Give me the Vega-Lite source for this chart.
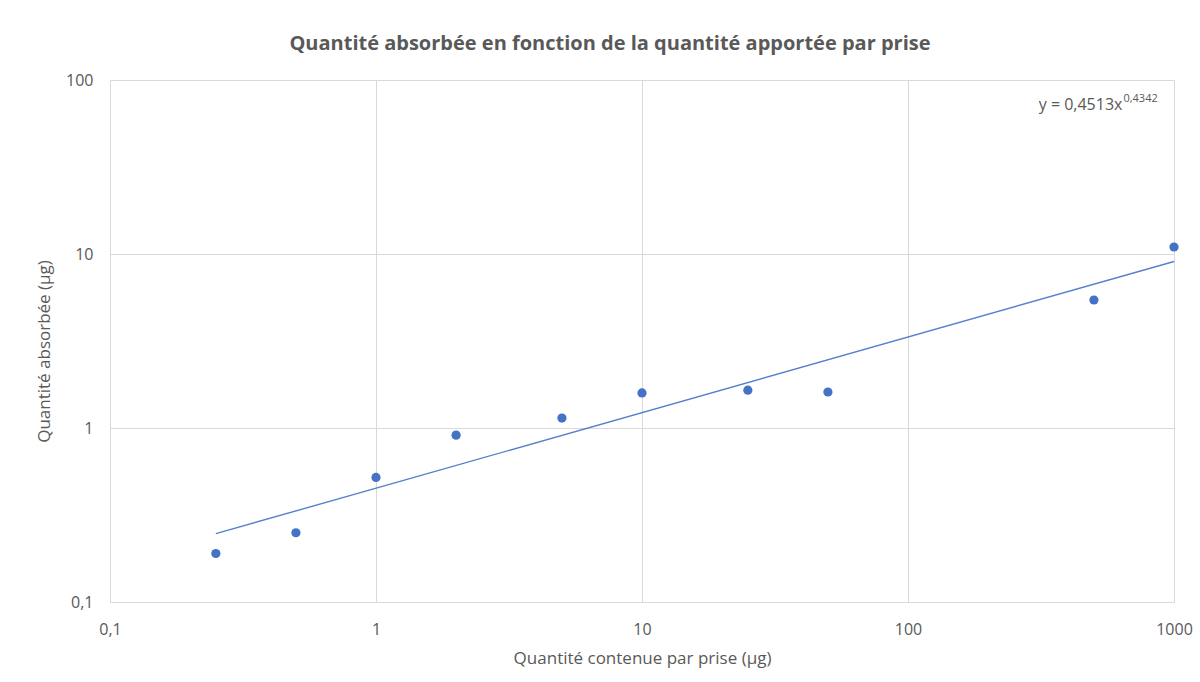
{
  "$schema": "https://vega.github.io/schema/vega-lite/v6.json",
  "autosize": {"type": "none"},
  "width": 1064,
  "height": 522,
  "padding": {"left": 110, "top": 80, "right": 26, "bottom": 80},
  "background": "#ffffff",
  "config": {
    "font": "Open Sans",
    "view": {"stroke": null},
    "axis": {
      "grid": true,
      "gridColor": "#d9d9d9",
      "gridWidth": 1,
      "domain": false,
      "ticks": false,
      "labelFlush": false,
      "labelColor": "#595959",
      "labelFont": "Open Sans",
      "labelFontSize": 16,
      "titleColor": "#595959",
      "titleFont": "Open Sans",
      "titleFontSize": 17,
      "titleFontWeight": "normal"
    }
  },
  "title": {
    "text": "Quantité absorbée en fonction de la quantité apportée par prise",
    "font": "Open Sans",
    "fontSize": 20,
    "fontWeight": "bold",
    "color": "#595959",
    "anchor": "middle",
    "dx": -32,
    "offset": 18
  },
  "datasets": {
    "points": [
      {"contenue": 0.25, "absorbee": 0.19},
      {"contenue": 0.5, "absorbee": 0.25},
      {"contenue": 1, "absorbee": 0.52},
      {"contenue": 2, "absorbee": 0.91},
      {"contenue": 5, "absorbee": 1.14},
      {"contenue": 10, "absorbee": 1.59},
      {"contenue": 25, "absorbee": 1.65},
      {"contenue": 50, "absorbee": 1.61},
      {"contenue": 500, "absorbee": 5.44},
      {"contenue": 1000, "absorbee": 10.97}
    ],
    "trend": [
      {"contenue": 0.25, "absorbee": 0.247},
      {"contenue": 1000, "absorbee": 9.06}
    ],
    "equation": [
      {"contenue": 640, "absorbee": 67.2, "main": "y = 0,4513x", "exp": "0,4342"}
    ]
  },
  "layer": [
    {
      "data": {"name": "points"},
      "mark": {"type": "point", "filled": true, "opacity": 1, "size": 85, "color": "#4472c4"},
      "encoding": {
        "x": {
          "field": "contenue",
          "type": "quantitative",
          "scale": {"type": "log", "domain": [0.1, 1000], "nice": false},
          "axis": {
            "values": [0.1, 1, 10, 100, 1000],
            "labelExpr": "replace(toString(datum.value), '.', ',')",
            "labelPadding": 19,
            "titlePadding": 13,
            "title": "Quantité contenue par prise (µg)"
          }
        },
        "y": {
          "field": "absorbee",
          "type": "quantitative",
          "scale": {"type": "log", "domain": [0.1, 100], "nice": false},
          "axis": {
            "values": [0.1, 1, 10, 100],
            "labelExpr": "replace(toString(datum.value), '.', ',')",
            "labelPadding": 17,
            "titlePadding": 12,
            "titleY": 271,
            "title": "Quantité absorbée (µg)"
          }
        }
      }
    },
    {
      "data": {"name": "trend"},
      "mark": {"type": "line", "color": "#4472c4", "strokeWidth": 1.4, "opacity": 0.9},
      "encoding": {
        "x": {"field": "contenue", "type": "quantitative"},
        "y": {"field": "absorbee", "type": "quantitative"}
      }
    },
    {
      "data": {"name": "equation"},
      "mark": {"type": "text", "align": "right", "baseline": "alphabetic", "fontSize": 16, "color": "#595959", "font": "Open Sans"},
      "encoding": {
        "x": {"field": "contenue", "type": "quantitative"},
        "y": {"field": "absorbee", "type": "quantitative"},
        "text": {"field": "main"}
      }
    },
    {
      "data": {"name": "equation"},
      "mark": {"type": "text", "align": "left", "baseline": "alphabetic", "fontSize": 11, "dx": 1, "dy": -8, "color": "#595959", "font": "Open Sans"},
      "encoding": {
        "x": {"field": "contenue", "type": "quantitative"},
        "y": {"field": "absorbee", "type": "quantitative"},
        "text": {"field": "exp"}
      }
    }
  ]
}
